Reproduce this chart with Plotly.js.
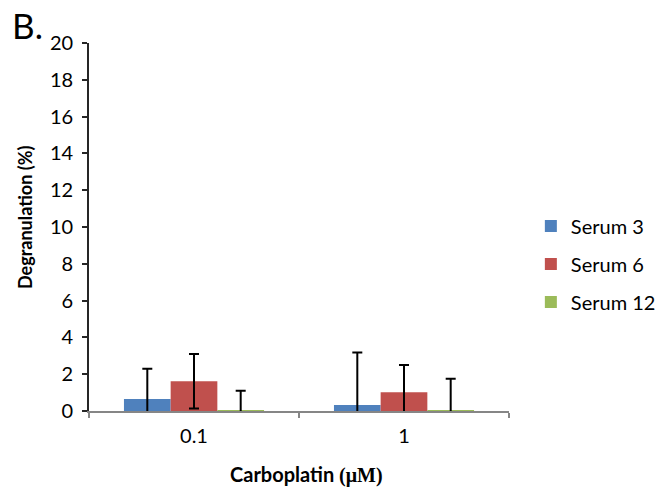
<!DOCTYPE html>
<html>
<head>
<meta charset="utf-8">
<script src="https://cdn.plot.ly/plotly-3.0.1.min.js"></script>
<style>html,body{margin:0;padding:0;background:#fff;}#chart{width:657px;height:493px;}</style>
</head>
<body>
<div id="chart"></div>
<script>
const categories = ["0.1", "1"];
const seriesNames = ["Serum 3", "Serum 6", "Serum 12"];
const serum3 = [0.65, 0.33];
const serum6 = [1.62, 1.02];
const serum12 = [0.05, 0.05];
const serum3Err = [1.65, 2.85];
const serum6Err = [1.48, 1.48];
const serum12Err = [1.05, 1.7];
const yTicks = [0, 2, 4, 6, 8, 10, 12, 14, 16, 18, 20];

const colors = ["#4F81BD", "#C0504D", "#9BBB59"];
const values = [serum3, serum6, serum12];
const errs = [serum3Err, serum6Err, serum12Err];

const traces = seriesNames.map((name, i) => ({
  type: "bar",
  name: name,
  x: categories,
  y: values[i],
  marker: {color: colors[i]},
  error_y: {type: "data", array: errs[i], visible: true, color: "#000", thickness: 2, width: 5},
  legendgroup: name
}));

const font = "Lato, 'Open Sans', 'DejaVu Sans', sans-serif";

const layout = {
  width: 657, height: 493,
  margin: {l: 89, r: 148, t: 43, b: 82, autoexpand: false},
  paper_bgcolor: "#fff", plot_bgcolor: "#fff",
  barmode: "group",
  bargap: 0.333, bargroupgap: 0,
  font: {family: font, size: 20, color: "#000"},
  showlegend: true,
  legend: {xref: "container", yref: "container", x: 0.808, xanchor: "left", y: 0.4645, yanchor: "middle",
           font: {size: 20, family: font},
           tracegroupgap: 9, traceorder: "grouped", itemwidth: 30},
  xaxis: {
    type: "category",
    showline: true, linecolor: "#868686", linewidth: 1.5,
    ticks: "outside", tickson: "boundaries", ticklen: 5, tickcolor: "#868686", tickwidth: 1.5,
    tickfont: {size: 20, family: font}, ticklabelstandoff: 6,
    showgrid: false, zeroline: false
  },
  yaxis: {
    range: [0, 20], tickvals: yTicks, ticktext: yTicks.map(String),
    showline: true, linecolor: "#262626", linewidth: 1.8,
    ticks: "outside", ticklen: 5, tickcolor: "#262626", tickwidth: 1.5,
    tickfont: {size: 20, family: font}, ticklabelstandoff: 5,
    showgrid: false, zeroline: false
  },
  annotations: [
    {text: "B.", xref: "paper", yref: "paper", x: -0.188, y: 1.0, xanchor: "left", yanchor: "bottom", yshift: -5,
     showarrow: false, font: {size: 35, family: font, color: "#000"}},
    {text: "<b>Degranulation (%)</b>", xref: "paper", yref: "paper", x: -0.152, y: 0.525, xanchor: "center", yanchor: "middle",
     textangle: -90, showarrow: false, font: {size: 18, family: font, color: "#000"}},
    {text: "<b>Carboplatin <span style='font-family:Liberation Serif, serif'>(μM)</span></b>", xref: "paper", yref: "paper",
     x: 0.519, y: -0.172, xanchor: "center", yanchor: "middle", showarrow: false, font: {size: 20, family: font, color: "#000"}}
  ]
};

Plotly.newPlot("chart", traces, layout, {displayModeBar: false});
</script>
</body>
</html>
